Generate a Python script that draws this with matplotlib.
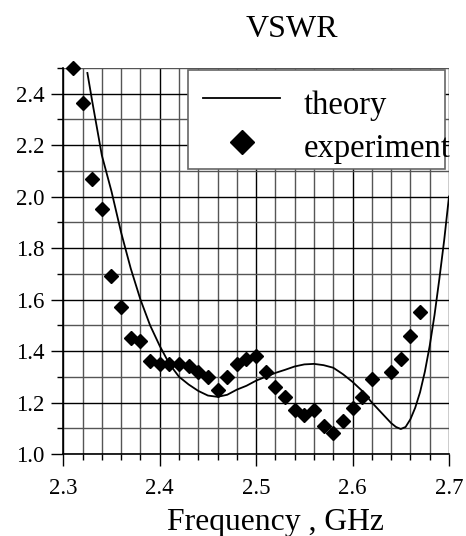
import matplotlib.pyplot as plt
from matplotlib.patches import Rectangle
from matplotlib.lines import Line2D
from matplotlib.ticker import MultipleLocator, FormatStrFormatter

plt.rcParams['font.family'] = 'serif'
plt.rcParams['font.serif'] = ['Liberation Serif']

# measured points
exp_freq = [2.31, 2.32, 2.33, 2.34, 2.35, 2.36, 2.37, 2.38, 2.39, 2.40,
            2.41, 2.42, 2.43, 2.44, 2.45, 2.46, 2.47, 2.48, 2.49, 2.50,
            2.51, 2.52, 2.53, 2.54, 2.55, 2.56, 2.57, 2.58, 2.59, 2.60,
            2.61, 2.62, 2.64, 2.65, 2.66, 2.67]
exp_vswr = [2.50, 2.365, 2.07, 1.95, 1.69, 1.57, 1.45, 1.44, 1.36, 1.35,
            1.35, 1.35, 1.34, 1.32, 1.30, 1.25, 1.30, 1.35, 1.37, 1.38,
            1.32, 1.26, 1.22, 1.17, 1.15, 1.17, 1.11, 1.08, 1.13, 1.18,
            1.22, 1.29, 1.32, 1.37, 1.46, 1.55]

# theory curve
th_freq = [2.325, 2.33, 2.34, 2.35, 2.36, 2.37, 2.38, 2.39, 2.40, 2.41,
           2.42, 2.43, 2.44, 2.45, 2.46, 2.47, 2.48, 2.49, 2.50, 2.51,
           2.52, 2.53, 2.54, 2.55, 2.56, 2.57, 2.58, 2.59, 2.60, 2.61,
           2.62, 2.63, 2.64, 2.645, 2.65, 2.655, 2.66, 2.665, 2.67, 2.675,
           2.68, 2.685, 2.69, 2.695, 2.70]
th_vswr = [2.48, 2.37, 2.16, 2.02, 1.86, 1.72, 1.60, 1.50, 1.42, 1.35,
           1.30, 1.27, 1.245, 1.227, 1.222, 1.23, 1.25, 1.265, 1.285, 1.30,
           1.315, 1.327, 1.34, 1.348, 1.35, 1.345, 1.335, 1.31, 1.28, 1.245,
           1.20, 1.16, 1.12, 1.105, 1.097, 1.105, 1.135, 1.18, 1.24, 1.32,
           1.42, 1.54, 1.68, 1.83, 2.00]

fig = plt.figure(figsize=(4.66, 5.36), dpi=100)
ax = fig.add_axes([0.1358, 0.153, 0.8277, 0.7205])

ax.set_xlim(2.3, 2.7)
ax.set_ylim(1.0, 2.5)

ax.xaxis.set_major_locator(MultipleLocator(0.1))
ax.xaxis.set_minor_locator(MultipleLocator(0.02))
ax.yaxis.set_major_locator(MultipleLocator(0.2))
ax.yaxis.set_minor_locator(MultipleLocator(0.1))
ax.xaxis.set_major_formatter(FormatStrFormatter('%.1f'))
ax.yaxis.set_major_formatter(FormatStrFormatter('%.1f'))

ax.grid(which='major', color='black', lw=1.0)
ax.grid(which='minor', color='#555555', lw=1.0)
ax.set_axisbelow(True)

ax.tick_params(which='major', length=8.6, width=1, labelsize=16.5)
ax.tick_params(axis='x', which='major', pad=9)
ax.tick_params(axis='y', which='major', pad=5)
ax.tick_params(which='minor', length=4.3, width=1)
for lab in ax.get_xticklabels() + ax.get_yticklabels():
    lab.set_fontfamily('Liberation Serif')

for s in ['top', 'right']:
    ax.spines[s].set_visible(False)
ax.spines['left'].set_linewidth(1.2)
ax.spines['bottom'].set_linewidth(1.2)

ax.plot(th_freq, th_vswr, color='black', lw=1.3, zorder=3)
ax.plot(exp_freq, exp_vswr, linestyle='none', marker='D', ms=7.2,
        color='black', clip_on=False, zorder=4)

# legend, drawn by hand so the text can run past the box like the original
ax.add_patch(Rectangle((0.324, 0.738), 0.666, 0.257, transform=ax.transAxes,
                       facecolor='white', edgecolor='#666666', lw=1.2, zorder=5))
ax.add_line(Line2D([0.362, 0.562], [0.922, 0.922], transform=ax.transAxes,
                   color='black', lw=1.3, zorder=6))
ax.add_line(Line2D([0.463], [0.808], transform=ax.transAxes, marker='D',
                   ms=12.5, color='black', linestyle='none', zorder=6))
ax.text(0.624, 0.880, 'theory', transform=ax.transAxes, fontsize=23.5,
        va='baseline', ha='left', zorder=7, clip_on=False)
ax.text(0.624, 0.770, 'experiment', transform=ax.transAxes, fontsize=23.5,
        va='baseline', ha='left', zorder=7, clip_on=False)

fig.text(0.627, 0.9315, 'VSWR', fontsize=23, ha='center', va='baseline')
fig.text(0.592, 0.0112, 'Frequency , GHz', fontsize=22.8, ha='center', va='baseline')

fig.savefig('out.png', dpi=100)
